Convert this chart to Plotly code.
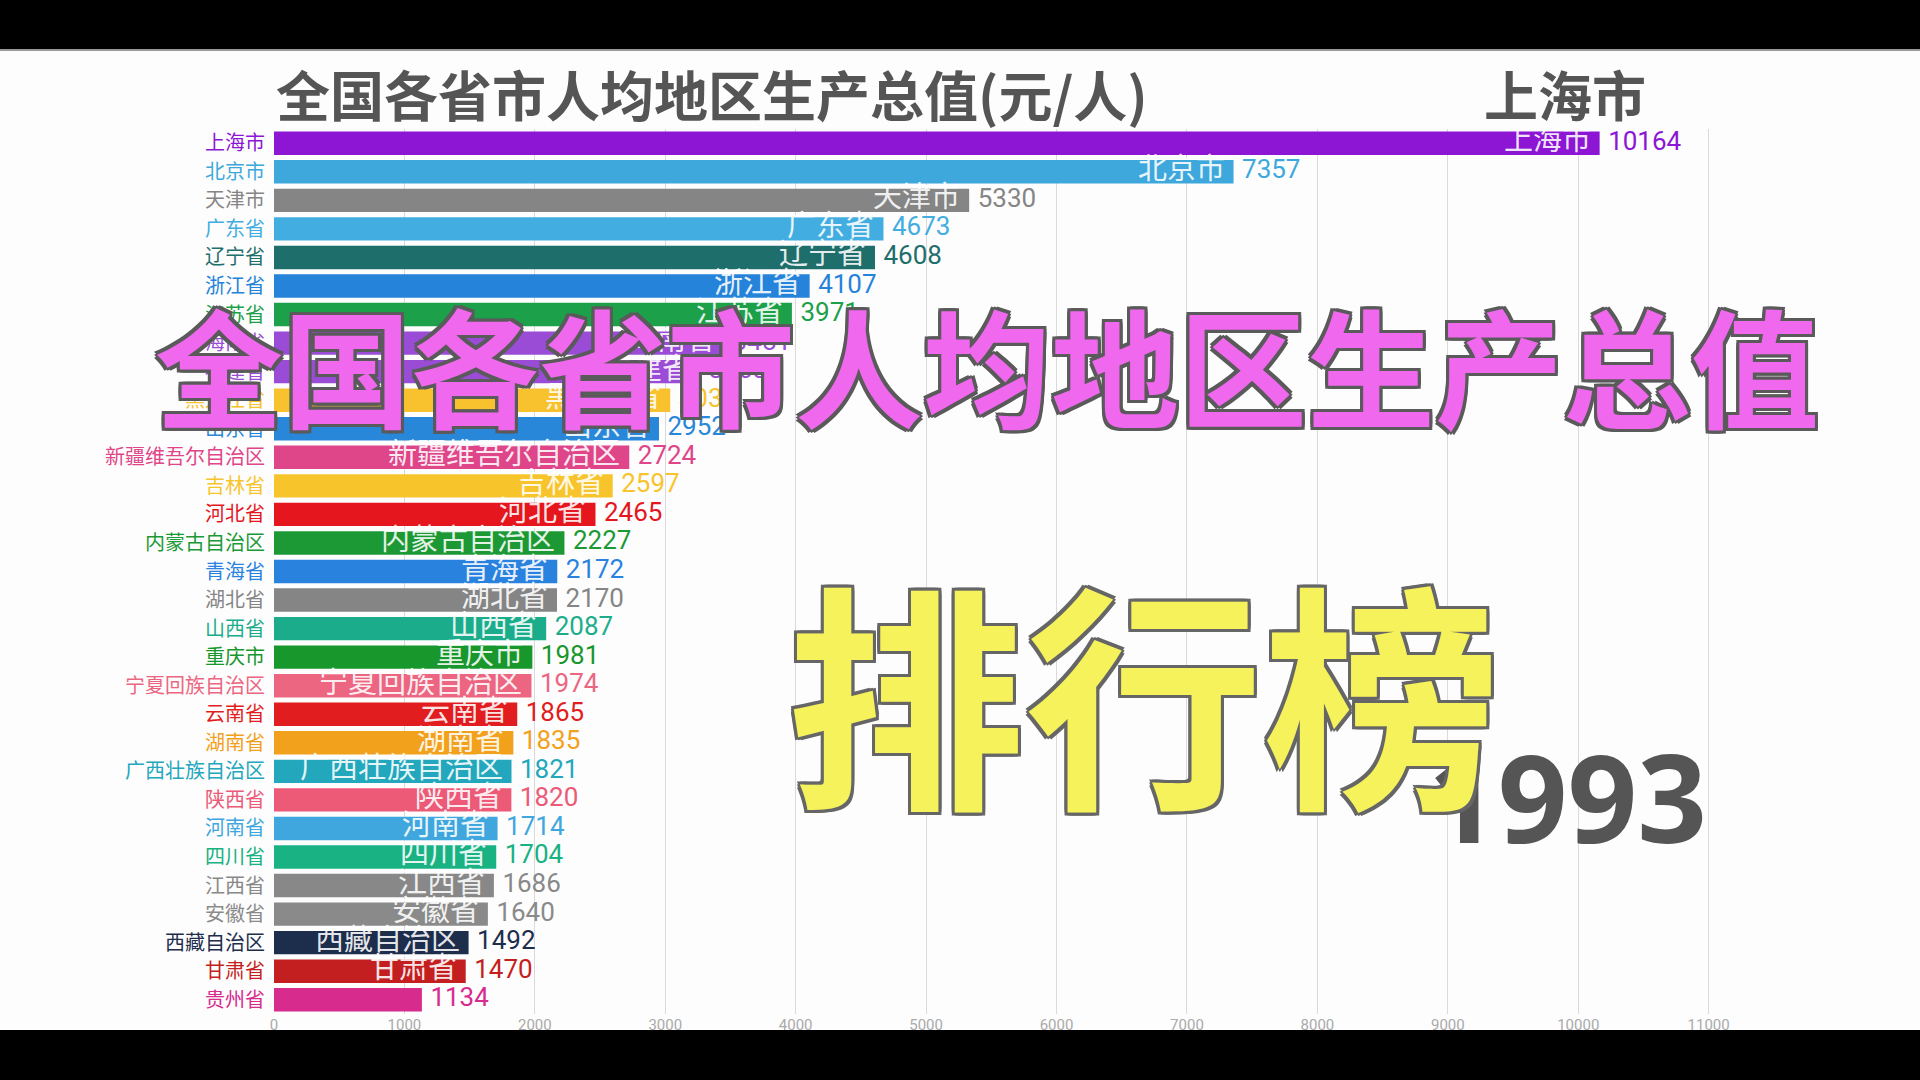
import plotly.graph_objects as go

provinces = ["上海市", "北京市", "天津市", "广东省", "辽宁省", "浙江省", "江苏省", "海南省",
             "福建省", "黑龙江省", "山东省", "新疆维吾尔自治区", "吉林省", "河北省", "内蒙古自治区",
             "青海省", "湖北省", "山西省", "重庆市", "宁夏回族自治区", "云南省", "湖南省",
             "广西壮族自治区", "陕西省", "河南省", "四川省", "江西省", "安徽省", "西藏自治区",
             "甘肃省", "贵州省"]
values = [10164, 7357, 5330, 4673, 4608, 4107, 3971, 3451, 3268, 3038, 2952, 2724, 2597, 2465,
          2227, 2172, 2170, 2087, 1981, 1974, 1865, 1835, 1821, 1820, 1714, 1704, 1686, 1640,
          1492, 1470, 1134]
colors = ["#8C16D4", "#3EA8DC", "#858585", "#42ADE0", "#1E6E6B", "#2583D9", "#1CA04A", "#9A4CD6",
          "#9A4CD6", "#F7C22E", "#2987DA", "#DF4689", "#F8C42C", "#E5161D", "#1C9935", "#2A82DF",
          "#858585", "#1BAD8B", "#17972C", "#EC6682", "#E21D20", "#F2A11C", "#22A7BC", "#EC5A78",
          "#3FA7DD", "#18B283", "#888888", "#8A8A8A", "#1D2E4D", "#C41F20", "#D82B8E"]
inside_labels = provinces[:-1] + [""]
year = "1993"
leader = provinces[0]
title_text = "全国各省市人均地区生产总值(元/人)"
overlay_top = "全国各省市人均地区生产总值"
overlay_bottom = "排行榜"
x_ticks = list(range(0, 12000, 1000))

CJK = "Noto Sans CJK SC"
NARROW = "Liberation Sans Narrow, Roboto, sans-serif"

fig = go.Figure()

fig.add_trace(go.Bar(
    x=values, y=provinces, orientation="h",
    marker=dict(color=colors, line=dict(width=0)),
    hoverinfo="skip", showlegend=False,
))

fig.add_trace(go.Scatter(
    x=values, y=provinces, mode="markers+text",
    marker=dict(size=12, color="rgba(0,0,0,0)"),
    text=[str(v) for v in values], textposition="middle right",
    textfont=dict(family=NARROW, size=26, color=colors),
    cliponaxis=False, hoverinfo="skip", showlegend=False,
))

# province names written inside the bar ends
for p, v, lab in zip(provinces, values, inside_labels):
    if lab:
        fig.add_annotation(text=lab, x=v, y=p, xref="x", yref="y", xanchor="right",
                           yanchor="middle", xshift=-7, yshift=6, showarrow=False,
                           font=dict(family=CJK, size=29, color="rgba(255,255,255,0.9)"))

ticktext = [f'<span style="color:{c}">{p}</span>' for p, c in zip(provinces, colors)]

fig.update_layout(
    width=1920, height=1080, autosize=False,
    margin=dict(l=274, r=107, t=129, b=66, autoexpand=False),
    paper_bgcolor="#FDFDFD", plot_bgcolor="#FDFDFD",
    bargap=0.18,
    font=dict(family=CJK),
    xaxis=dict(range=[0, 11800], tickvals=x_ticks, tickformat="d", showgrid=True,
               gridcolor="#DADADA", gridwidth=1, zeroline=False, showline=False,
               side="bottom", automargin=False,
               tickfont=dict(size=15, color="#AAAAAA", family=NARROW)),
    yaxis=dict(range=[len(provinces) - 0.5, -0.5], tickvals=provinces, ticktext=ticktext,
               showgrid=False, zeroline=False, showline=False, automargin=False,
               ticks="outside", ticklen=4, tickcolor="rgba(0,0,0,0)",
               tickfont=dict(size=20, family=CJK)),
)

# black letterbox bars (video frame)
fig.add_shape(type="rect", xref="paper", yref="paper", ysizemode="pixel", yanchor=1,
              x0=-1, x1=2, y0=80, y1=300, fillcolor="#000000", line=dict(width=0), layer="above")
fig.add_shape(type="rect", xref="paper", yref="paper", ysizemode="pixel", yanchor=1,
              x0=-1, x1=2, y0=78, y1=80, fillcolor="#9A9A9A", line=dict(width=0), layer="above")
fig.add_shape(type="rect", xref="paper", yref="paper", ysizemode="pixel", yanchor=0,
              x0=-1, x1=2, y0=-16, y1=-200, fillcolor="#000000", line=dict(width=0), layer="above")

# chart title and leader
fig.add_annotation(text=title_text, xref="paper", yref="paper", x=0, y=1, yshift=36,
                   xanchor="left", yanchor="middle", showarrow=False,
                   font=dict(family=CJK, size=54, color="#555555", weight="bold"))
fig.add_annotation(text=leader, xref="x", yref="paper", x=9900, y=1, yshift=36,
                   xanchor="center", yanchor="middle", showarrow=False,
                   font=dict(family=CJK, size=54, color="#555555", weight="bold"))
fig.add_annotation(text=year, xref="x", yref="paper", x=11000, y=0.246,
                   xanchor="right", yanchor="middle", showarrow=False,
                   font=dict(family="Open Sans, sans-serif", size=122, color="#555555", weight="bold"))

# decorative calligraphy overlays
outline = lambda c, w: ", ".join(f"{dx}px {dy}px 0 {c}" for dx in (-w, 0, w) for dy in (-w, 0, w) if dx or dy)
fig.add_annotation(text=overlay_top, xref="paper", yref="paper", x=0.463, y=0.735,
                   xanchor="center", yanchor="middle", showarrow=False,
                   font=dict(family=CJK, size=128, color="#F068EE", weight="bold",
                             shadow=outline("#5A5A5A", 3)))
fig.add_annotation(text=overlay_bottom, xref="paper", yref="paper", x=0.565, y=0.37,
                   xanchor="center", yanchor="middle", showarrow=False,
                   font=dict(family=CJK, size=238, color="#F6F25C", weight="bold",
                             shadow=outline("#666666", 3)))

fig.write_html("out.html")
